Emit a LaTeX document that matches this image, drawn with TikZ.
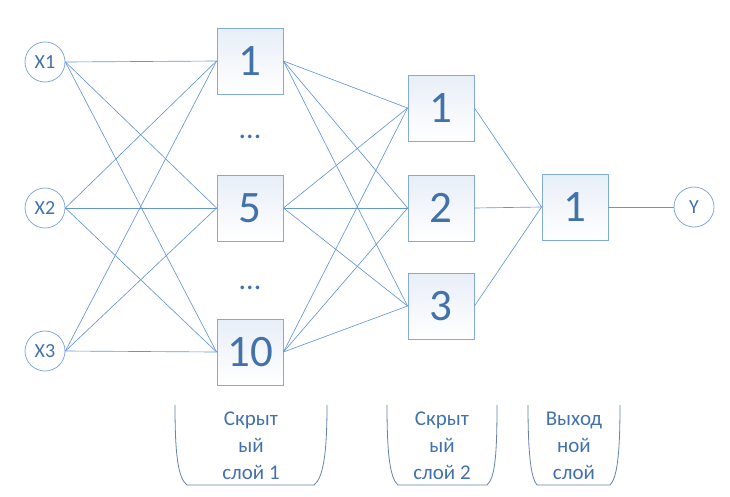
\documentclass[tikz,border=0pt]{standalone}
\usepackage{fontspec}
\setmainfont{Carlito}
\usepackage{xcolor}
\usetikzlibrary{positioning}
\definecolor{svyazcol}{RGB}{100,150,212}
\definecolor{ramkacol}{RGB}{130,170,218}
\definecolor{tekstcol}{RGB}{66,114,172}
\definecolor{chashacol}{RGB}{100,130,170}
\definecolor{zalivkacol}{RGB}{232,238,247}

\begin{document}
\begin{tikzpicture}[x=1pt,y=-1pt,
    vhod/.style={circle,draw=ramkacol,line width=0.8pt,fill=white,minimum size=40pt,inner sep=0pt,
        text=tekstcol,font=\fontsize{20}{20}\selectfont},
    neiron/.style={rectangle,draw=ramkacol,line width=0.9pt,top color=zalivkacol,bottom color=white,
        minimum size=66pt,inner sep=0pt,text=tekstcol,font=\fontsize{45}{45}\selectfont},
    svyaz/.style={draw=svyazcol,line width=0.65pt},
    chasha/.style={draw=chashacol,line width=0.8pt},
    podpis/.style={align=center,text=tekstcol,font=\fontsize{21}{27}\selectfont}]
\useasboundingbox (0,0) rectangle (730,496);
% входы
\foreach \n/\y in {1/62,2/208,3/351} \node[vhod] (x\n) at (45,\y) {X\n};
% скрытый слой 1
\foreach \n/\y in {1/61,5/208,10/352} \node[neiron] (a\n) at (250,\y) {\n};
\node[text=tekstcol,font=\fontsize{30}{30}\selectfont] (t1) at (250,137) {...};
\node[text=tekstcol,font=\fontsize{30}{30}\selectfont] (t2) at (250,288) {...};
% скрытый слой 2
\foreach \n/\y in {1/108,2/208,3/306} \node[neiron] (b\n) at (441,\y) {\n};
% выход
\node[neiron] (c1) at (575,207) {1};
\node[vhod] (y) at (694,207) {Y};
% связи
\foreach \i in {1,2,3} \foreach \j in {1,5,10} \draw[svyaz] (x\i.east) -- (a\j.west);
\foreach \i in {1,5,10} \foreach \j in {1,2,3} \draw[svyaz] (a\i.east) -- (b\j.west);
\foreach \i in {1,2,3} \draw[svyaz] (b\i.east) -- (c1.west);
\draw[svyaz] (c1) -- (y);
% подписи слоёв
\draw[chasha] (175,405) .. controls (175,455) and (178,478) .. (187,485) -- (314,485)
    .. controls (323,478) and (327,455) .. (327,405);
\draw[chasha] (387,405) .. controls (387,455) and (390,478) .. (398,485) -- (487,485)
    .. controls (495,478) and (497,455) .. (497,405);
\draw[chasha] (528,405) .. controls (528,455) and (531,478) .. (537,485) -- (610,485)
    .. controls (617,478) and (620,455) .. (620,405);
\node[podpis] (p1) at (251,446) {Скрыт\\ый\\слой 1};
\node[podpis] (p2) at (442,446) {Скрыт\\ый\\слой 2};
\node[podpis] (p3) at (574,446) {Выход\\ной\\слой};
\end{tikzpicture}
\end{document}
